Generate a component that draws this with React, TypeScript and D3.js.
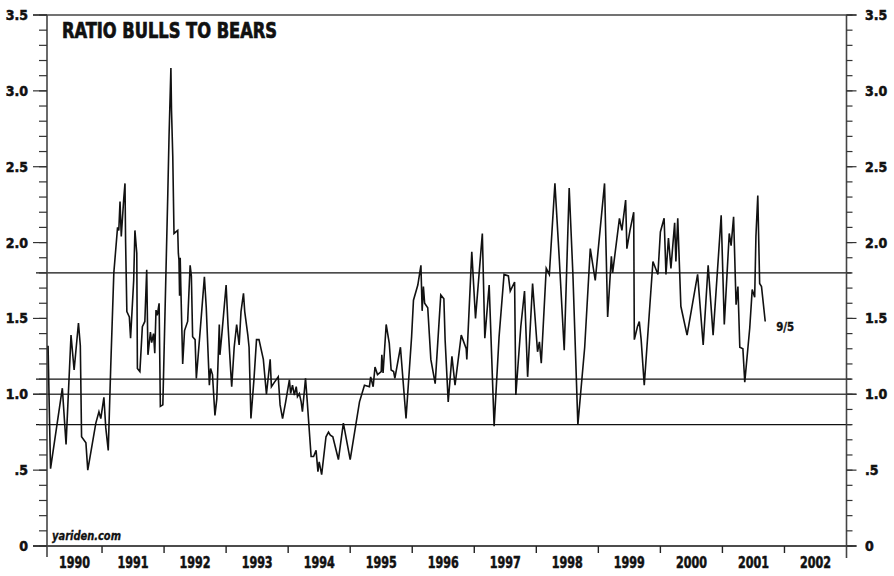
import * as d3 from 'd3';

// weekly ratio, [decimal year, bulls/bears]
const bullBearRatio: [number, number][] = [
  [1990.13, 1.32], [1990.15, 0.9], [1990.17, 0.51], [1990.36, 1.04], [1990.42, 0.67],
  [1990.5, 1.39], [1990.55, 1.16], [1990.62, 1.47], [1990.65, 1.32], [1990.67, 0.72],
  [1990.74, 0.68], [1990.77, 0.5], [1990.9, 0.81], [1990.95, 0.885], [1990.98, 0.84],
  [1991.03, 0.98], [1991.06, 0.78], [1991.1, 0.63], [1991.14, 1.18], [1991.19, 1.8],
  [1991.25, 2.1], [1991.27, 2.08], [1991.29, 2.27], [1991.31, 2.04], [1991.35, 2.29],
  [1991.37, 2.39], [1991.38, 2.0], [1991.4, 1.545], [1991.44, 1.51], [1991.46, 1.37],
  [1991.51, 1.75], [1991.53, 2.08], [1991.56, 1.93], [1991.57, 1.17], [1991.61, 1.15],
  [1991.65, 1.445], [1991.69, 1.48], [1991.72, 1.82], [1991.74, 1.26], [1991.78, 1.41],
  [1991.8, 1.34], [1991.83, 1.4], [1991.85, 1.27], [1991.87, 1.555], [1991.89, 1.52],
  [1991.92, 1.6], [1991.94, 0.92], [1991.98, 0.93], [1992.03, 1.8], [1992.06, 2.32],
  [1992.08, 2.7], [1992.11, 3.15], [1992.12, 2.87], [1992.14, 2.57], [1992.16, 2.06],
  [1992.22, 2.08], [1992.23, 1.93], [1992.24, 1.885], [1992.25, 1.65], [1992.26, 1.9],
  [1992.27, 1.71], [1992.3, 1.2], [1992.33, 1.42], [1992.38, 1.48], [1992.42, 1.85],
  [1992.44, 1.78], [1992.46, 1.38], [1992.5, 1.36], [1992.52, 1.105], [1992.58, 1.41],
  [1992.65, 1.775], [1992.68, 1.57], [1992.73, 1.06], [1992.75, 1.17], [1992.78, 1.13],
  [1992.82, 0.86], [1992.85, 0.97], [1992.89, 1.46], [1992.9, 1.26], [1992.93, 1.39],
  [1993.0, 1.72], [1993.03, 1.46], [1993.07, 1.18], [1993.09, 1.05], [1993.13, 1.31],
  [1993.17, 1.46], [1993.21, 1.325], [1993.24, 1.545], [1993.28, 1.665], [1993.3, 1.545],
  [1993.35, 1.39], [1993.37, 1.31], [1993.4, 0.84], [1993.45, 1.105], [1993.49, 1.36],
  [1993.53, 1.36], [1993.6, 1.23], [1993.65, 1.0], [1993.71, 1.23], [1993.73, 1.05],
  [1993.78, 1.08], [1993.84, 1.115], [1993.87, 0.93], [1993.91, 0.84], [1993.96, 0.95],
  [1994.02, 1.095], [1994.04, 1.005], [1994.07, 1.06], [1994.1, 0.995], [1994.13, 1.05],
  [1994.15, 0.985], [1994.18, 1.005], [1994.21, 0.95], [1994.23, 0.885], [1994.28, 1.105],
  [1994.31, 0.94], [1994.37, 0.59], [1994.41, 0.59], [1994.45, 0.63], [1994.48, 0.49],
  [1994.5, 0.555], [1994.54, 0.47], [1994.61, 0.72], [1994.65, 0.75], [1994.68, 0.73],
  [1994.72, 0.72], [1994.81, 0.57], [1994.89, 0.81], [1995.0, 0.57], [1995.15, 0.95],
  [1995.23, 1.06], [1995.31, 1.05], [1995.33, 1.115], [1995.37, 1.05], [1995.4, 1.18],
  [1995.44, 1.13], [1995.5, 1.15], [1995.51, 1.26], [1995.53, 1.14], [1995.58, 1.46],
  [1995.63, 1.335], [1995.66, 1.16], [1995.7, 1.15], [1995.72, 1.105], [1995.81, 1.31],
  [1995.9, 0.84], [1995.99, 1.38], [1996.02, 1.62], [1996.09, 1.72], [1996.14, 1.85],
  [1996.16, 1.55], [1996.18, 1.71], [1996.2, 1.6], [1996.25, 1.57], [1996.3, 1.23],
  [1996.37, 1.07], [1996.46, 1.655], [1996.51, 1.63], [1996.53, 1.36], [1996.58, 0.95],
  [1996.64, 1.25], [1996.69, 1.06], [1996.79, 1.39], [1996.87, 1.3], [1996.88, 1.23],
  [1996.96, 1.94], [1997.02, 1.5], [1997.13, 2.06], [1997.17, 1.37], [1997.24, 1.72],
  [1997.32, 0.79], [1997.4, 1.38], [1997.48, 1.79], [1997.55, 1.78], [1997.58, 1.68],
  [1997.65, 1.74], [1997.67, 0.995], [1997.75, 1.445], [1997.81, 1.68], [1997.86, 1.115],
  [1997.94, 1.73], [1998.02, 1.28], [1998.05, 1.345], [1998.08, 1.205], [1998.16, 1.83],
  [1998.21, 1.79], [1998.3, 2.39], [1998.37, 1.895], [1998.45, 1.29], [1998.53, 2.36],
  [1998.59, 1.79], [1998.67, 0.8], [1998.78, 1.31], [1998.87, 1.96], [1998.95, 1.75],
  [1999.1, 2.39], [1999.15, 1.51], [1999.21, 1.91], [1999.23, 1.8], [1999.34, 2.16],
  [1999.38, 2.08], [1999.4, 2.15], [1999.44, 2.28], [1999.46, 1.96], [1999.51, 2.08],
  [1999.57, 2.2], [1999.58, 1.36], [1999.63, 1.445], [1999.66, 1.48], [1999.69, 1.36],
  [1999.74, 1.06], [1999.88, 1.875], [1999.96, 1.79], [2000.0, 2.07], [2000.06, 2.16],
  [2000.09, 1.79], [2000.13, 2.03], [2000.17, 1.83], [2000.23, 2.13], [2000.25, 1.875],
  [2000.28, 2.16], [2000.33, 1.58], [2000.43, 1.39], [2000.6, 1.79], [2000.69, 1.325],
  [2000.77, 1.85], [2000.85, 1.39], [2000.98, 2.18], [2001.03, 1.46], [2001.11, 2.06],
  [2001.14, 1.98], [2001.18, 2.17], [2001.22, 1.59], [2001.25, 1.71], [2001.28, 1.31],
  [2001.33, 1.3], [2001.36, 1.08], [2001.44, 1.435], [2001.48, 1.69], [2001.52, 1.64],
  [2001.54, 2.04], [2001.57, 2.31], [2001.6, 1.73], [2001.63, 1.71], [2001.69, 1.48],
];

const years = d3.range(1990, 2003);
const yMajor = [0, 0.5, 1, 1.5, 2, 2.5, 3, 3.5];
const yMajorLabels = ['0', '.5', '1.0', '1.5', '2.0', '2.5', '3.0', '3.5'];
const yMinor = d3.range(0, 36).map((i) => i / 10);
const refLevels = [1.8, 1.1, 0.8];
const lastDateLabel = '9/5';

const W = 894;
const H = 576;
const FONT = "'Liberation Sans Narrow', 'DejaVu Sans Condensed', 'Arial Narrow', 'Roboto', sans-serif";

function App() {
  const x = d3.scaleLinear().domain([1990, 2003]).range([40, 846.5]);
  const y = d3.scaleLinear().domain([0, 3.5]).range([546, 15]);
  const xL = 47; // left axis sits a few weeks into 1990
  const xR = x(2003);
  const start = x.invert(xL);

  const line = d3
    .line<[number, number]>()
    .x((d) => x(d[0]))
    .y((d) => y(d[1]));

  const last = bullBearRatio[bullBearRatio.length - 1];
  // fake a heavier face by stroking the glyphs a little
  const heavy = { stroke: '#111', strokeWidth: 0.5 };

  return (
    <svg
      width={W}
      height={H}
      style={{ position: 'absolute', left: 0, top: 0, background: '#fff' }}
      fontFamily={FONT}
      fontWeight="bold"
      fontStretch="condensed"
    >
      {/* reference levels */}
      <g stroke="#111" strokeWidth={1.4}>
        {refLevels.map((v) => (
          <line key={v} x1={36} x2={xR + 5} y1={y(v)} y2={y(v)} />
        ))}
      </g>

      {/* frame + major lines */}
      <g stroke="#444" strokeWidth={1.6}>
        <line x1={33} x2={xR + 10} y1={y(3.5)} y2={y(3.5)} />
        <line x1={33} x2={xR + 10} y1={y(0)} y2={y(0)} stroke="#111" />
        <line x1={33} x2={xR + 10} y1={y(1)} y2={y(1)} />
        <line x1={xL} x2={xL} y1={y(3.5)} y2={557} />
        <line x1={xR} x2={xR} y1={y(3.5)} y2={558} />
      </g>

      {/* y ticks */}
      <g stroke="#333" strokeWidth={1.2}>
        {yMinor.map((v) => (
          <g key={v}>
            <line x1={39} x2={xL} y1={y(v)} y2={y(v)} />
            <line x1={xR} x2={xR + 6} y1={y(v)} y2={y(v)} />
          </g>
        ))}
        {yMajor.map((v) => (
          <g key={'m' + v}>
            <line x1={33} x2={xL} y1={y(v)} y2={y(v)} />
            <line x1={xR} x2={xR + 10} y1={y(v)} y2={y(v)} />
          </g>
        ))}
      </g>
      <g fontSize={14} fill="#111" {...heavy}>
        {yMajor.map((v, i) => (
          <g key={'l' + v}>
            <text x={28} y={y(v)} dy="0.36em" textAnchor="end">
              {yMajorLabels[i]}
            </text>
            <text x={865} y={y(v)} dy="0.36em" textAnchor="start">
              {yMajorLabels[i]}
            </text>
          </g>
        ))}
      </g>

      {/* x ticks at year boundaries */}
      <g stroke="#222" strokeWidth={1.4}>
        {years.slice(1).map((yr) => (
          <line key={yr} x1={x(yr)} x2={x(yr)} y1={y(0)} y2={553} />
        ))}
      </g>
      <g fontSize={15} fill="#111" textAnchor="middle" {...heavy}>
        {years.map((yr) => {
          const a = x(Math.max(yr, start));
          const b = x(Math.min(yr + 1, 2003));
          return (
            <text key={yr} x={(a + b) / 2} y={568} textLength={31} lengthAdjust="spacingAndGlyphs">
              {yr}
            </text>
          );
        })}
      </g>

      {/* series */}
      <path d={line(bullBearRatio) ?? undefined} fill="none" stroke="#111" strokeWidth={1.6} />

      <text x={x(last[0]) + 11} y={y(last[1]) + 10} fontSize={12} fill="#111" textLength={18} lengthAdjust="spacingAndGlyphs" {...heavy} strokeWidth={0.3}>
        {lastDateLabel}
      </text>

      <text x={62} y={38} fontSize={21} fill="#111" textLength={215} lengthAdjust="spacingAndGlyphs" {...heavy} strokeWidth={0.7}>
        RATIO BULLS TO BEARS
      </text>
      <text x={52} y={540} fontSize={12} fontStyle="italic" fill="#111" textLength={69} lengthAdjust="spacingAndGlyphs" {...heavy} strokeWidth={0.3}>
        yariden.com
      </text>
    </svg>
  );
}

export default App;
